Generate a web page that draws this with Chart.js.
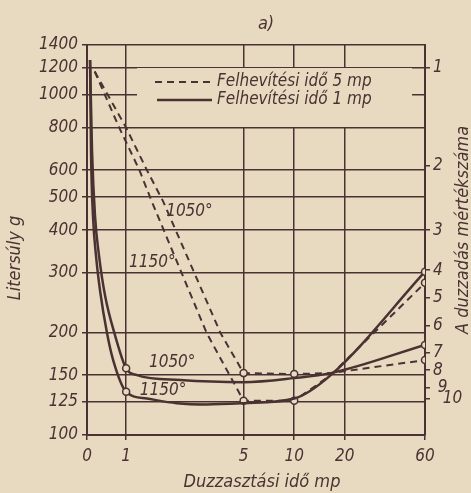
<!DOCTYPE html>
<html>
<head>
<meta charset="utf-8">
<script src="https://cdn.jsdelivr.net/npm/chart.js@4.4.1/dist/chart.umd.min.js"></script>
<style>
  html, body { margin: 0; padding: 0; background: #e8dac0; }
  canvas { display: block; }
</style>
</head>
<body>
<canvas id="chart" width="471" height="493"></canvas>
<script>
// x axis (Duzzasztási idő, mp) - "0" sits at the log axis start
const xTickValues = [0.585, 1, 5, 10, 20, 60];
const xTickLabels = ['0', '1', '5', '10', '20', '60'];

// left axis (Litersúly g)
const yTickValues = [100, 125, 150, 200, 300, 400, 500, 600, 800, 1000, 1200, 1400];

// right axis (A duzzadás mértékszáma), placed at litersúly values
const rightTickValues = [1200, 620, 400, 305, 253, 210, 175, 155, 138, 128];
const rightTickLabels = ['1', '2', '3', '4', '5', '6', '7', '8', '9', '10'];

const legendLabels = ['Felhevítési idő 5 mp', 'Felhevítési idő 1 mp'];

// Felhevítési idő 1 mp, 1050°
const solid1050X = [0.61, 0.627, 0.653, 0.69, 0.749, 0.86, 1, 1.16, 2.1, 5, 10, 16.5, 60];
const solid1050Y = [1265, 680, 440, 336, 257, 196, 157, 150, 145, 143, 147, 152, 184];
// Felhevítési idő 1 mp, 1150°
const solid1150X = [0.61, 0.618, 0.635, 0.662, 0.70, 0.77, 0.837, 1, 1.33, 2, 3, 5, 10, 16.5, 60];
const solid1150Y = [1265, 680, 440, 336, 265, 199, 166, 134, 128, 124, 123, 124, 128, 150, 302];
// Felhevítési idő 5 mp, 1050°
const dashed1050X = [0.65, 1.0, 1.33, 1.66, 3.65, 5, 10, 16.5, 60];
const dashed1050Y = [1170, 800, 600, 486, 199, 152, 151, 152, 166];
// Felhevítési idő 5 mp, 1150°
const dashed1150X = [0.65, 0.91, 1.20, 1.42, 3.02, 5, 10, 16.5, 60];
const dashed1150Y = [1170, 800, 600, 486, 199, 126, 126, 150, 280];

// measured points (open circles)
const solidMarkerX = [1, 60];
const dashedMarkerX = [5, 10, 60];

// temperature labels [text, x, y]
const curveLabels = [
    ['1050°', 2.38, 455],
    ['1150°', 1.43, 321],
    ['1050°', 1.88, 163],
    ['1150°', 1.66, 135]
];

const INK = '#4a3232';
const PAPER = '#e8dac0';
const FONT = "'Liberation Sans Narrow', 'DejaVu Sans Condensed', 'DejaVu Sans', sans-serif";

function toPoints(xs, ys) {
    return xs.map((x, i) => ({ x: x, y: ys[i] }));
}

function makeSeries(xs, ys, markers, dashed) {
    return {
        data: toPoints(xs, ys),
        borderColor: INK,
        borderWidth: dashed ? 2 : 2.5,
        borderDash: dashed ? [7, 5] : [],
        tension: dashed ? 0 : 0.4,
        cubicInterpolationMode: dashed ? 'default' : 'monotone',
        pointRadius: ctx => markers.includes(ctx.raw.x) ? 3.5 : 0,
        pointBackgroundColor: PAPER,
        pointBorderColor: INK,
        pointBorderWidth: 1.5
    };
}

const paperPlugin = {
    id: 'paper',
    beforeDraw(chart) {
        const ctx = chart.ctx;
        ctx.save();
        ctx.fillStyle = PAPER;
        ctx.fillRect(0, 0, chart.width, chart.height);
        ctx.restore();
    }
};

// legend box sits inside the plot and hides the grid behind it
const legendPlugin = {
    id: 'boxLegend',
    beforeDatasetsDraw(chart) {
        const ctx = chart.ctx;
        const a = chart.chartArea;
        ctx.save();
        ctx.fillStyle = PAPER;
        ctx.fillRect(a.left + 50, a.top + 23, a.right - a.left - 63, 59);

        ctx.strokeStyle = INK;
        ctx.lineWidth = 2;
        ctx.setLineDash([7, 5]);
        ctx.beginPath();
        ctx.moveTo(a.left + 68, a.top + 37);
        ctx.lineTo(a.left + 125, a.top + 37);
        ctx.stroke();

        ctx.lineWidth = 2.5;
        ctx.setLineDash([]);
        ctx.beginPath();
        ctx.moveTo(a.left + 70, a.top + 55);
        ctx.lineTo(a.left + 125, a.top + 55);
        ctx.stroke();

        ctx.fillStyle = INK;
        ctx.font = 'italic 17px ' + FONT;
        ctx.textAlign = 'left';
        ctx.textBaseline = 'middle';
        ctx.fillText(legendLabels[0], a.left + 130, a.top + 37);
        ctx.fillText(legendLabels[1], a.left + 130, a.top + 55);
        ctx.restore();
    }
};

const textPlugin = {
    id: 'texts',
    afterDraw(chart) {
        const ctx = chart.ctx;
        const xs = chart.scales.x;
        const ys = chart.scales.y;
        ctx.save();
        ctx.fillStyle = INK;
        ctx.textAlign = 'center';
        ctx.textBaseline = 'middle';
        ctx.font = 'italic 17px ' + FONT;
        curveLabels.forEach(([t, x, y]) => {
            ctx.fillText(t, xs.getPixelForValue(x), ys.getPixelForValue(y));
        });

        ctx.font = 'italic 18px ' + FONT;
        ctx.fillText('a)', 266, 24);
        ctx.fillText('Duzzasztási idő mp', 262, 482);

        ctx.save();
        ctx.translate(15, 258);
        ctx.rotate(-Math.PI / 2);
        ctx.fillText('Litersúly g', 0, 0);
        ctx.restore();

        ctx.save();
        ctx.translate(463, 230);
        ctx.rotate(-Math.PI / 2);
        ctx.fillText('A duzzadás mértékszáma', 0, 0);
        ctx.restore();
        ctx.restore();
    }
};

const tickFont = { family: FONT, size: 17, style: 'italic' };

const config = {
    type: 'line',
    data: {
        datasets: [
            makeSeries(solid1050X, solid1050Y, solidMarkerX, false),
            makeSeries(solid1150X, solid1150Y, solidMarkerX, false),
            makeSeries(dashed1050X, dashed1050Y, dashedMarkerX, true),
            makeSeries(dashed1150X, dashed1150Y, dashedMarkerX, true)
        ]
    },
    options: {
        responsive: false,
        animation: false,
        devicePixelRatio: 1,
        layout: { padding: { top: 45, left: 0, right: 0, bottom: 0 } },
        plugins: {
            legend: { display: false },
            tooltip: { enabled: false }
        },
        scales: {
            x: {
                type: 'logarithmic',
                position: 'bottom',
                min: xTickValues[0],
                max: 60,
                afterBuildTicks: scale => {
                    scale.ticks = xTickValues.map(v => ({ value: v }));
                },
                afterFit: scale => { scale.height = 58; },
                ticks: {
                    autoSkip: false,
                    maxRotation: 0,
                    color: INK,
                    font: tickFont,
                    padding: 6,
                    callback: (value, index) => xTickLabels[index]
                },
                grid: { color: INK, lineWidth: 1.5, tickLength: 5 },
                border: { color: INK, width: 2 }
            },
            y: {
                type: 'logarithmic',
                position: 'left',
                min: 100,
                max: 1400,
                afterBuildTicks: scale => {
                    scale.ticks = yTickValues.map(v => ({ value: v }));
                },
                afterFit: scale => { scale.width = 87; },
                ticks: {
                    autoSkip: false,
                    color: INK,
                    font: tickFont,
                    padding: 4,
                    callback: value => String(value)
                },
                grid: { color: INK, lineWidth: 1.5, tickLength: 5 },
                border: { color: INK, width: 2 }
            },
            y2: {
                type: 'logarithmic',
                position: 'right',
                min: 100,
                max: 1400,
                afterBuildTicks: scale => {
                    scale.ticks = rightTickValues.map(v => ({ value: v }));
                },
                afterFit: scale => { scale.width = 46; },
                ticks: {
                    autoSkip: false,
                    color: INK,
                    font: tickFont,
                    padding: 3,
                    callback: (value, index) => {
                        // the last two labels are staggered like in the print
                        const shift = index >= 8 ? ' '.repeat(index - 7) : '';
                        return shift + rightTickLabels[index];
                    }
                },
                grid: { drawOnChartArea: false, color: INK, lineWidth: 1.5, tickLength: 5 },
                border: { color: INK, width: 2 }
            }
        }
    },
    plugins: [paperPlugin, legendPlugin, textPlugin]
};

new Chart(document.getElementById('chart'), config);
</script>
</body>
</html>
